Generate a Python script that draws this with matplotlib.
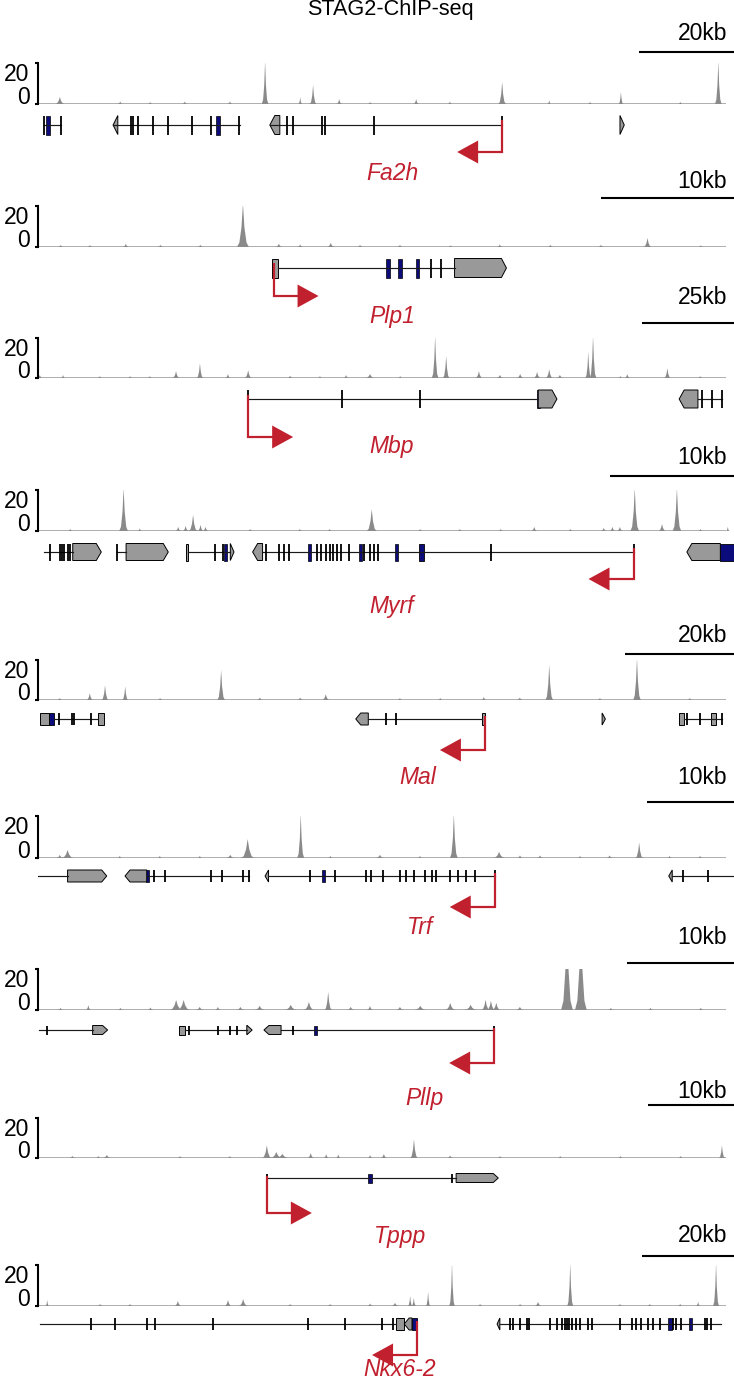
import numpy as np
import matplotlib.pyplot as plt
from matplotlib.patches import Polygon, Rectangle

plt.rcParams['font.family'] = ['Liberation Sans', 'DejaVu Sans']

# ---------------- data (genomic positions in kb from the left edge of each window) ----------------
title = 'STAG2-ChIP-seq'
gene_names = ['Fa2h', 'Plp1', 'Mbp', 'Myrf', 'Mal', 'Trf', 'Pllp', 'Tppp', 'Nkx6-2']
windows_kb = [146.5, 52.3, 189.1, 56.1, 127.7, 80.0, 65.0, 80.9, 151.3]
scalebar_kb = [20, 10, 25, 10, 20, 10, 10, 10, 20]
tss_kb = [97.7, 17.7, 57.1, 48.0, 82.0, 52.5, 42.6, 26.6, 82.4]
strand = [-1, 1, 1, -1, -1, -1, -1, 1, -1]
y_range = [0, 20]

# Fa2h
fa2h_peak_x = [4.6, 17.3, 23.6, 30.9, 40.4, 47.8, 55.2, 57.9, 63.4, 69.9, 79.6, 86.7, 97.7, 107.6, 116.2, 122.7, 135.2, 143.2]
fa2h_peak_y = [3.4, 1.2, 1.0, 1.2, 1.2, 21, 3.4, 9.3, 2.4, 1.0, 2.4, 1.2, 10.7, 1.8, 1.0, 5.9, 1.0, 21]
fa2h_peak_w = [2.0, 1.2, 1.0, 1.2, 1.2, 1.4, 0.8, 1.4, 1.2, 1.0, 1.2, 1.0, 1.6, 0.8, 1.0, 1.0, 1.0, 1.4]
fa2h_introns = [(1.3, 4.8), (15.8, 42.5), (48.8, 97.7)]
fa2h_exons = [1.3, 4.8, 19.6, 19.9, 21.1, 24.2, 27.4, 32.4, 36.4, 42.3, 52.4, 53.7, 59.8, 60.4, 70.7, 97.7]
fa2h_blue = [2.1, 37.9]
fa2h_bluebox = []
fa2h_utr = []
fa2h_ends = [(15.8, 16.8, -1), (48.8, 50.9, -1), (122.5, 123.4, 1)]

# Plp1
plp1_peak_x = [1.7, 3.9, 6.6, 9.2, 12.2, 15.4, 18.1, 19.7, 22.0, 24.2, 27.2, 31.0, 34.7, 38.5, 42.3, 45.8, 49.8]
plp1_peak_y = [0.9, 0.9, 1.5, 1.0, 1.0, 21, 1.5, 1.2, 2.0, 1.0, 1.0, 0.8, 1.2, 1.0, 1.0, 4.4, 0.8]
plp1_peak_w = [0.5, 0.5, 0.5, 0.5, 0.5, 0.9, 0.6, 0.5, 0.6, 0.5, 0.5, 0.4, 0.5, 0.5, 0.5, 0.6, 0.4]
plp1_introns = [(18.0, 31.3)]
plp1_exons = [29.5, 30.3]
plp1_blue = [26.3, 27.2, 28.5]
plp1_bluebox = []
plp1_utr = [(17.6, 18.0)]
plp1_ends = [(31.3, 35.2, 1)]

# Mbp
mbp_peak_x = [0.5, 6.8, 16.8, 25.0, 30.4, 37.5, 44.0, 51.6, 57.1, 68.5, 76.6, 83.7, 90.2, 98.4, 107.9, 110.9, 119.8, 125.5,
              131.0, 135.6, 138.9, 141.8, 149.5, 150.8, 158.2, 160.1, 171.0, 179.9]
mbp_peak_y = [1.5, 1.5, 1.0, 1.0, 1.0, 3.4, 7.3, 2.0, 3.9, 1.2, 1.0, 1.5, 2.0, 1.0, 21, 11, 3.4, 1.5,
              2.0, 3.0, 4.4, 1.5, 13, 21, 1.0, 2.0, 4.9, 1.0]
mbp_peak_w = [1.5, 1.2, 1.2, 1.2, 1.2, 2.0, 1.8, 1.5, 2.0, 1.5, 1.2, 1.5, 2.5, 1.2, 1.8, 1.8, 2.0, 2.0,
              2.0, 2.0, 2.0, 2.0, 1.6, 1.8, 1.2, 1.5, 1.8, 1.2]
mbp_introns = [(57.1, 135.9), (179.3, 185.9)]
mbp_exons = [57.1, 82.6, 103.8, 180.4, 183.2, 185.9]
mbp_blue = [135.9]
mbp_bluebox = []
mbp_utr = []
mbp_ends = [(135.9, 141.0, 1), (174.2, 179.3, -1)]

# Myrf
myrf_peak_x = [2.6, 6.9, 8.2, 11.3, 11.9, 12.5, 13.1, 13.5, 17.1, 21.1, 23.5, 26.9, 30.8, 34.0, 37.3, 40.0, 42.9,
               45.6, 46.3, 46.9, 48.1, 50.3, 51.5, 53.4, 55.6]
myrf_peak_y = [1.0, 21, 1.2, 2.0, 2.5, 7.8, 3.0, 2.0, 1.0, 1.0, 1.0, 10.7, 1.0, 1.0, 1.0, 2.0, 1.0,
               1.5, 2.0, 2.0, 21, 3.4, 21, 1.0, 2.0]
myrf_peak_w = [0.4, 0.7, 0.4, 0.5, 0.5, 0.7, 0.5, 0.5, 0.4, 0.4, 0.4, 0.8, 0.4, 0.4, 0.4, 0.5, 0.4,
               0.5, 0.5, 0.5, 0.7, 0.6, 0.7, 0.4, 0.3]
myrf_introns = [(0.5, 2.8), (6.4, 7.1), (12.1, 15.5), (18.1, 48.0)]
myrf_exons = [1.0, 1.8, 1.9, 2.1, 2.4, 2.6, 6.4, 14.3, 14.9, 18.4, 19.4, 19.8, 20.2, 22.5, 22.8, 23.2, 23.5, 23.8,
              24.1, 24.4, 25.1, 26.3, 26.8, 27.1, 27.4, 36.5, 48.0]
myrf_blue = [15.1, 21.9, 26.0, 28.9]
myrf_bluebox = [(30.7, 31.1), (55.0, 56.1)]
myrf_utr = [(11.9, 12.1)]
myrf_ends = [(2.8, 5.1, 1), (7.1, 10.5, 1), (15.5, 15.8, 1), (17.3, 18.1, -1), (52.3, 55.0, -1)]

# Mal
mal_peak_x = [4.0, 9.5, 12.3, 16.0, 22.4, 33.6, 40.7, 48.1, 52.8, 66.4, 73.8, 81.8, 88.4, 93.8, 103.1, 109.9, 119.6]
mal_peak_y = [1.0, 3.4, 7.3, 6.8, 1.0, 15, 1.2, 1.2, 2.9, 1.0, 1.0, 1.5, 1.2, 17.6, 1.0, 21, 1.0]
mal_peak_w = [1.0, 1.2, 1.3, 1.1, 1.0, 1.4, 1.2, 1.2, 1.4, 1.0, 1.0, 1.0, 1.2, 1.4, 1.0, 1.4, 1.0]
mal_introns = [(2.9, 11.0), (60.6, 81.5), (118.5, 125.5)]
mal_exons = [3.9, 6.2, 6.6, 9.7, 63.9, 65.7, 119.1, 121.5, 125.5]
mal_blue = []
mal_bluebox = [(2.0, 2.9)]
mal_utr = [(0.4, 2.0), (11.0, 12.1), (81.4, 82.0), (117.6, 118.5), (123.5, 124.4)]
mal_ends = [(58.3, 60.6, -1), (103.5, 104.1, 1)]

# Trf
trf_peak_x = [2.5, 3.4, 9.4, 14.0, 18.6, 22.1, 24.1, 30.2, 33.6, 39.3, 43.9, 47.8, 53.0, 55.4, 57.7, 62.3, 65.7,
              69.1, 72.6, 76.1]
trf_peak_y = [1.5, 3.8, 1.0, 1.0, 1.0, 1.5, 9.0, 21, 1.0, 1.5, 1.0, 21, 2.9, 1.2, 1.2, 1.0, 1.2, 7.3, 1.0, 1.0]
trf_peak_w = [0.8, 1.4, 0.6, 0.6, 0.6, 1.0, 1.5, 0.8, 0.6, 1.0, 0.6, 0.9, 1.4, 0.8, 0.8, 0.6, 0.8, 0.9, 0.6, 0.6]
trf_introns = [(0.0, 3.4), (12.5, 24.3), (26.4, 52.5), (72.9, 80.0)]
trf_exons = [13.3, 14.6, 19.9, 21.1, 23.6, 24.2, 31.3, 34.1, 37.7, 38.3, 39.7, 41.6, 42.3, 43.2, 44.5, 45.3, 45.8,
             47.4, 48.3, 49.2, 50.2, 52.5, 74.1, 77.0]
trf_blue = [12.6, 32.8]
trf_bluebox = []
trf_utr = []
trf_ends = [(3.4, 7.9, 1), (10.0, 12.5, -1), (26.1, 26.5, -1), (72.5, 72.9, -1)]

# Pllp
pllp_peak_x = [2.1, 4.7, 7.7, 10.5, 12.9, 13.6, 15.1, 16.8, 18.9, 20.7, 23.6, 25.3, 27.1, 29.2, 31.0, 33.8, 35.7,
               38.5, 40.4, 41.8, 42.3, 42.8, 45.0, 49.4, 50.7, 53.5, 57.2, 61.9]
pllp_peak_y = [1.0, 2.4, 1.0, 1.2, 4.9, 4.9, 1.5, 1.5, 1.5, 2.0, 2.5, 3.9, 8.8, 1.5, 2.0, 1.5, 2.0,
               3.4, 2.5, 5.0, 4.5, 3.5, 1.5, 45, 45, 1.0, 1.0, 1.0]
pllp_peak_w = [0.6, 0.5, 0.6, 0.6, 1.2, 1.2, 0.8, 0.6, 0.8, 1.0, 1.2, 1.0, 0.7, 0.8, 0.6, 0.8, 1.2,
               1.0, 1.2, 0.8, 0.8, 0.8, 0.8, 1.1, 1.1, 0.6, 0.6, 0.6]
pllp_introns = [(0.1, 5.1), (13.7, 19.5), (22.7, 42.6)]
pllp_exons = [0.8, 14.1, 16.8, 17.9, 18.6, 23.8, 42.6]
pllp_blue = [25.9]
pllp_bluebox = []
pllp_utr = [(13.2, 13.7)]
pllp_ends = [(5.1, 6.5, 1), (19.5, 20.0, 1), (21.1, 22.7, -1)]

# Tppp
tppp_peak_x = [4.0, 7.0, 8.0, 16.5, 22.3, 26.6, 27.7, 28.4, 31.7, 33.5, 34.9, 38.6, 40.2, 43.7, 47.9, 53.7, 60.7,
               67.7, 74.7, 79.5]
tppp_peak_y = [1.0, 1.0, 1.5, 1.0, 1.0, 6.3, 3.0, 2.0, 2.5, 2.0, 1.8, 1.5, 2.0, 9.3, 1.2, 1.0, 1.0, 1.0, 1.0, 6.3]
tppp_peak_w = [0.8, 0.6, 1.0, 0.6, 0.6, 1.1, 1.4, 1.6, 0.8, 0.6, 0.6, 0.6, 0.8, 0.9, 0.8, 0.6, 0.6, 0.6, 0.6, 0.7]
tppp_introns = [(26.6, 48.6)]
tppp_exons = [26.6, 48.1]
tppp_blue = [38.6]
tppp_bluebox = []
tppp_utr = []
tppp_ends = [(48.6, 53.5, 1)]

# Nkx6-2
nkx62_peak_x = [2.0, 13.5, 20.0, 30.4, 41.3, 44.6, 54.8, 63.5, 72.2, 77.6, 80.9, 81.7, 84.8, 90.0, 96.1, 104.8,
                108.7, 115.7, 126.5, 133.0, 139.6, 143.5, 147.4]
nkx62_peak_y = [2.9, 1.0, 1.0, 2.4, 2.9, 3.4, 1.0, 1.0, 1.2, 1.5, 4.9, 3.9, 6.8, 21, 1.0, 1.0,
                2.0, 21, 1.0, 1.0, 1.0, 2.0, 21]
nkx62_peak_w = [0.8, 1.2, 1.2, 1.6, 1.6, 2.0, 1.2, 1.2, 1.4, 1.8, 1.0, 1.0, 1.0, 1.2, 1.2, 1.2,
                1.6, 1.3, 1.2, 1.2, 1.2, 1.0, 1.3]
nkx62_introns = [(0.4, 77.8), (100.4, 148.5)]
nkx62_exons = [11.5, 16.7, 23.7, 25.4, 38.0, 58.7, 66.7, 74.8, 77.2, 102.6, 103.3, 104.8, 106.3, 106.7, 111.3,
               112.8, 113.9, 114.6, 115.0, 115.4, 116.1, 117.0, 117.8, 119.6, 120.4, 126.5, 129.1, 130.0, 131.1,
               132.6, 133.7, 135.2, 138.0, 138.7, 139.8, 145.0, 145.4, 146.3]
nkx62_blue = [137.4, 141.9]
nkx62_bluebox = [(81.3, 82.4)]
nkx62_utr = [(77.8, 79.6)]
nkx62_ends = [(79.6, 81.3, -1), (99.8, 100.4, -1)]

tracks = [
    (fa2h_peak_x, fa2h_peak_y, fa2h_peak_w, fa2h_introns, fa2h_exons, fa2h_blue, fa2h_bluebox, fa2h_utr, fa2h_ends),
    (plp1_peak_x, plp1_peak_y, plp1_peak_w, plp1_introns, plp1_exons, plp1_blue, plp1_bluebox, plp1_utr, plp1_ends),
    (mbp_peak_x, mbp_peak_y, mbp_peak_w, mbp_introns, mbp_exons, mbp_blue, mbp_bluebox, mbp_utr, mbp_ends),
    (myrf_peak_x, myrf_peak_y, myrf_peak_w, myrf_introns, myrf_exons, myrf_blue, myrf_bluebox, myrf_utr, myrf_ends),
    (mal_peak_x, mal_peak_y, mal_peak_w, mal_introns, mal_exons, mal_blue, mal_bluebox, mal_utr, mal_ends),
    (trf_peak_x, trf_peak_y, trf_peak_w, trf_introns, trf_exons, trf_blue, trf_bluebox, trf_utr, trf_ends),
    (pllp_peak_x, pllp_peak_y, pllp_peak_w, pllp_introns, pllp_exons, pllp_blue, pllp_bluebox, pllp_utr, pllp_ends),
    (tppp_peak_x, tppp_peak_y, tppp_peak_w, tppp_introns, tppp_exons, tppp_blue, tppp_bluebox, tppp_utr, tppp_ends),
    (nkx62_peak_x, nkx62_peak_y, nkx62_peak_w, nkx62_introns, nkx62_exons, nkx62_blue, nkx62_bluebox, nkx62_utr,
     nkx62_ends),
]

# ---------------- layout (figure pixels, y from top) ----------------
FW, FH = 734, 1383
X0, XW = 38, 696
sig_top = [63, 206, 338, 490, 660, 816, 969, 1118, 1265]
sig_bot = [104, 247, 378, 531, 700, 858, 1010, 1158, 1306]
gene_y = [125, 268, 399, 552, 719, 876, 1030, 1178, 1324]
exon_h = [9.5, 9.5, 9, 8.5, 6, 6, 4.5, 4.5, 6]
arrow_y = [152, 296, 437, 579, 750, 907, 1063, 1213, 1355]
name_xy = [(392, 173), (392, 316), (392, 447), (392, 606), (418, 777), (420, 928), (424, 1098), (400, 1237), (400, 1370)]
scale_label_y = [34, 181, 298, 458, 635, 778, 938, 1092, 1235]
scale_bar_y = [52, 198, 323, 476, 654, 802, 963, 1105, 1256]

RED = '#c1202e'
SIG = '#8a8a8a'
GRAY = '#999999'
NAVY = '#0b0b7c'
FS = 16.5
shape_x = np.array([-1, -0.6, -0.25, 0, 0.25, 0.6, 1])
shape_y = np.array([0, 0.1, 0.45, 1, 0.45, 0.1, 0])

fig = plt.figure(figsize=(FW / 100, FH / 100), dpi=100)
fig.text(390 / FW, 1 - 10 / FH, title, ha='center', va='center', fontsize=15.6)

for i, tr in enumerate(tracks):
    px, py, pw, introns, exons, blue, bluebox, utr, ends = tr
    W = windows_kb[i]
    k = W / XW  # kb per pixel

    # signal track
    top, bot = sig_top[i], sig_bot[i]
    sax = fig.add_axes([X0 / FW, 1 - bot / FH, XW / FW, (bot - top) / FH])
    sax.set_xlim(0, W)
    sax.set_ylim(*y_range)
    sax.fill_between([1 * k, W - 8 * k], 0, 0.55, color='#b0b0b0', lw=0)
    for x, h, w in zip(px, py, pw):
        sax.fill(x + shape_x * w / 2, shape_y * h, color=SIG, lw=0)
    for s in ['top', 'right', 'bottom']:
        sax.spines[s].set_visible(False)
    sax.spines['left'].set_linewidth(1.5)
    sax.set_xticks([])
    sax.set_yticks(y_range)
    sax.set_yticklabels([str(v) for v in y_range])
    sax.tick_params(axis='y', length=2.5, width=1.5, pad=3.5, labelsize=FS)
    for t, va in zip(sax.yaxis.get_major_ticks(), ['baseline', 'top']):
        t.label1.set_va(va)
    sax.patch.set_visible(False)

    # gene track (x in kb, y in figure pixels)
    gax = fig.add_axes([X0 / FW, 0, XW / FW, 1], label='genes%d' % i)
    gax.set_xlim(0, W)
    gax.set_ylim(FH, 0)
    gax.axis('off')
    gy, gh = gene_y[i], exon_h[i]
    for a, b in introns:
        gax.plot([a, b], [gy, gy], color='#1a1a1a', lw=0.85)
    for x in exons:
        gax.plot([x, x], [gy - gh, gy + gh], color='black', lw=1.3, solid_capstyle='butt')
    for x in blue:
        gax.add_patch(Rectangle((x - 1.6 * k, gy - gh), 3.2 * k, 2 * gh, fc=NAVY, ec='black', lw=0.5))
    for a, b in bluebox:
        gax.add_patch(Rectangle((a, gy - gh), b - a, 2 * gh, fc=NAVY, ec='black', lw=0.6))
    for a, b in utr:
        gax.add_patch(Rectangle((a, gy - gh), b - a, 2 * gh, fc=GRAY, ec='black', lw=0.7))
    for a, b, d in ends:
        tip = min(5 * k, b - a)
        if d > 0:
            pts = [(a, gy - gh), (b - tip, gy - gh), (b, gy), (b - tip, gy + gh), (a, gy + gh)]
        else:
            pts = [(b, gy - gh), (a + tip, gy - gh), (a, gy), (a + tip, gy + gh), (b, gy + gh)]
        gax.add_patch(Polygon(pts, closed=True, fc=GRAY, ec='black', lw=0.7))

    # TSS arrow
    t0, d = tss_kb[i], strand[i]
    ay = arrow_y[i]
    gax.plot([t0, t0, t0 + d * 25 * k], [gy - 0.5 * gh, ay, ay], color=RED, lw=1.6,
             solid_joinstyle='miter', solid_capstyle='butt')
    gax.add_patch(Polygon([(t0 + d * 24 * k, ay - 11.5), (t0 + d * 24 * k, ay + 11.5), (t0 + d * 45 * k, ay)],
                          closed=True, fc=RED, ec='none'))
    nx, ny = name_xy[i]
    gax.text((nx - X0) * k, ny, gene_names[i], color=RED, style='italic', ha='center', va='center', fontsize=FS)

    # scale bar
    sb = scalebar_kb[i]
    gax.plot([W - sb, W], [scale_bar_y[i]] * 2, color='black', lw=1.5, solid_capstyle='butt', clip_on=False)
    gax.text(W - 7 * k, scale_label_y[i], '%dkb' % sb, ha='right', va='center', fontsize=FS)

fig.savefig('out.png', dpi=100)
